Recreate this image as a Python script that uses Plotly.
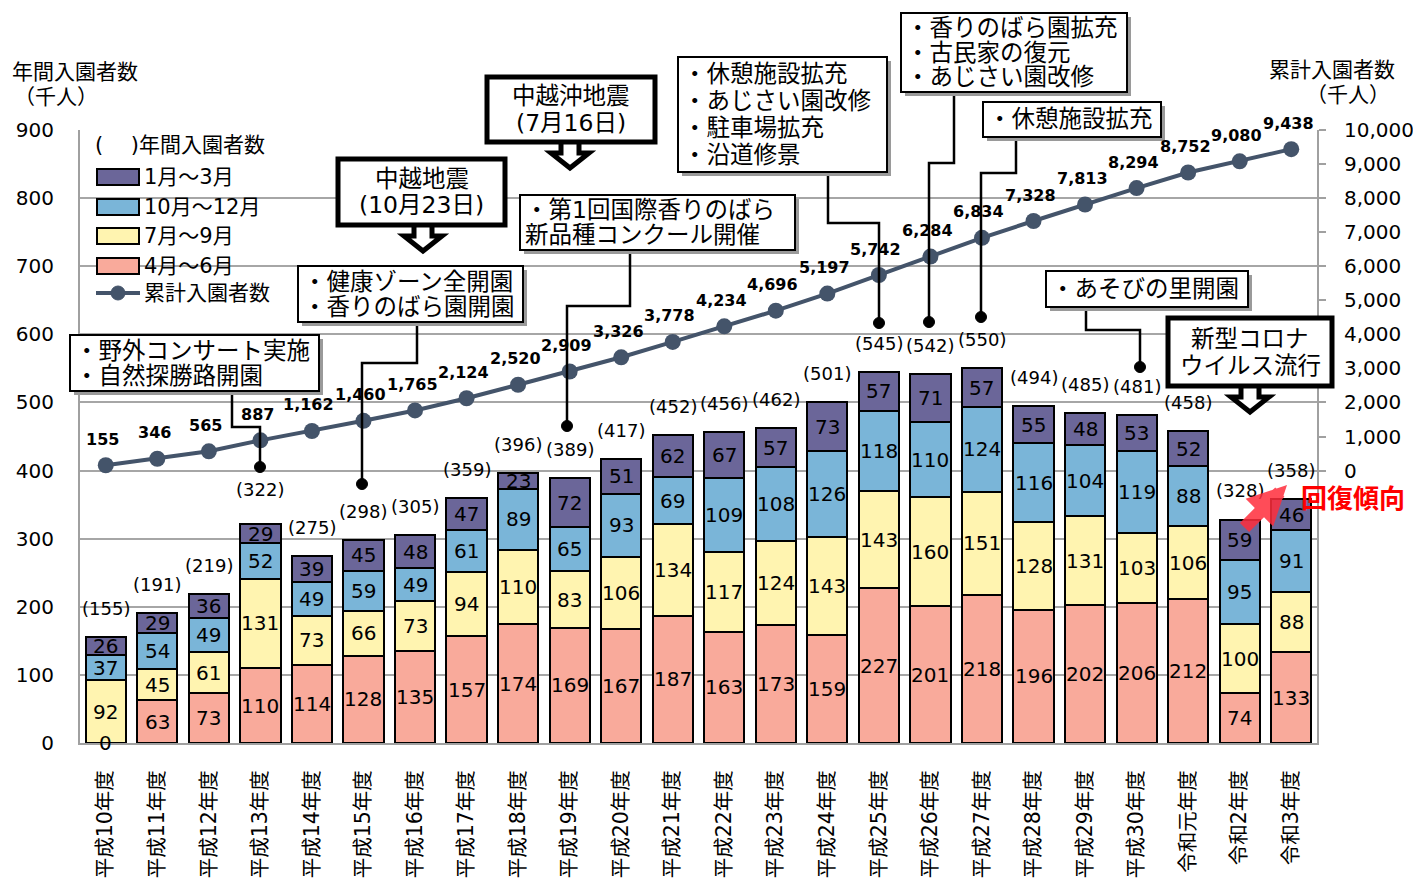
import plotly.graph_objects as go

# ---------------- data ----------------
categories = ["平成10年度", "平成11年度", "平成12年度", "平成13年度", "平成14年度", "平成15年度",
              "平成16年度", "平成17年度", "平成18年度", "平成19年度", "平成20年度", "平成21年度",
              "平成22年度", "平成23年度", "平成24年度", "平成25年度", "平成26年度", "平成27年度",
              "平成28年度", "平成29年度", "平成30年度", "令和元年度", "令和2年度", "令和3年度"]
apr_jun = [0, 63, 73, 110, 114, 128, 135, 157, 174, 169, 167, 187, 163, 173, 159, 227, 201, 218, 196, 202, 206, 212, 74, 133]
jul_sep = [92, 45, 61, 131, 73, 66, 73, 94, 110, 83, 106, 134, 117, 124, 143, 143, 160, 151, 128, 131, 103, 106, 100, 88]
oct_dec = [37, 54, 49, 52, 49, 59, 49, 61, 89, 65, 93, 69, 109, 108, 126, 118, 110, 124, 116, 104, 119, 88, 95, 91]
jan_mar = [26, 29, 36, 29, 39, 45, 48, 47, 23, 72, 51, 62, 67, 57, 73, 57, 71, 57, 55, 48, 53, 52, 59, 46]
annual_total = [155, 191, 219, 322, 275, 298, 305, 359, 396, 389, 417, 452, 456, 462, 501, 545, 542, 550, 494, 485, 481, 458, 328, 358]
cumulative = [155, 346, 565, 887, 1162, 1460, 1765, 2124, 2520, 2909, 3326, 3778, 4234, 4696, 5197, 5742, 6284, 6834,
              7328, 7813, 8294, 8752, 9080, 9438]
left_ticks = [0, 100, 200, 300, 400, 500, 600, 700, 800, 900]
right_ticks = [0, 1000, 2000, 3000, 4000, 5000, 6000, 7000, 8000, 9000, 10000]

series_names = ["4月～6月", "7月～9月", "10月～12月", "1月～3月"]
series_vals = [apr_jun, jul_sep, oct_dec, jan_mar]
series_cols = ["#F9AA9B", "#FFF4B0", "#7AB5D8", "#6B6699"]
LINE_COL = "#44546A"
FONT = "DejaVu Sans, Noto Sans CJK JP"

W, H = 1413, 883
L, R, T, B = 80, 1317, 130, 743


def px(x):
    return (x - L) / (R - L)


def py(y):
    return (B - y) / (B - T)


def txt(x, y, text, size=20, xanchor="center", color="black", family=FONT, align="left"):
    return dict(x=px(x), y=py(y), xref="paper", yref="paper", text=text, showarrow=False, xanchor=xanchor,
                yanchor="middle", align=align, font=dict(size=size, color=color, family=family))


fig = go.Figure()
for name, vals, col in zip(series_names, series_vals, series_cols):
    fig.add_trace(go.Bar(x=categories, y=vals, name=name, marker=dict(color=col, line=dict(color="black", width=2)),
                         showlegend=False, hoverinfo="skip"))

fig.add_trace(go.Scatter(x=categories, y=cumulative, yaxis="y2", mode="lines+markers", name="累計入園者数",
                         line=dict(color=LINE_COL, width=4), marker=dict(size=16, color=LINE_COL),
                         showlegend=False, cliponaxis=False))

ann = []
shapes = []

# segment labels
for i, cat in enumerate(categories):
    base = 0
    for vals in series_vals:
        v = vals[i]
        ann.append(dict(x=cat, y=base + v / 2, xref="x", yref="y", text=str(v), showarrow=False,
                        xanchor="center", yanchor="middle", font=dict(size=20, color="black", family=FONT)))
        base += v
    extra = 8 if annual_total[i] == 322 else 0
    ann.append(dict(x=cat, y=annual_total[i] + 42 + extra, xref="x", yref="y", text=f"({annual_total[i]})",
                    showarrow=False, xanchor="center", yanchor="middle",
                    font=dict(size=18, color="black", family=FONT)))
    ann.append(dict(x=cat, y=cumulative[i], xref="x", yref="y2", text=f"<b>{cumulative[i]:,}</b>",
                    showarrow=False, yshift=26, xshift=-3, xanchor="center", yanchor="middle",
                    font=dict(size=16, color="black", family=FONT)))

# axis titles
ann += [
    txt(10, 72, "年間入園者数", size=21, xanchor="left"),
    txt(12, 97, "（千人）", size=21, xanchor="left"),
    txt(1397, 70, "累計入園者数", size=21, xanchor="right"),
    txt(1392, 95, "（千人）", size=21, xanchor="right"),
]

# manual legend
ann.append(txt(93, 145, "(　 )年間入園者数", size=21, xanchor="left"))
leg_rows = [("1月～3月", series_cols[3], 177), ("10月～12月", series_cols[2], 207),
            ("7月～9月", series_cols[1], 236), ("4月～6月", series_cols[0], 266)]
for t, col, yy in leg_rows:
    shapes.append(dict(type="rect", xref="paper", yref="paper", x0=px(97), x1=px(139), y0=py(yy - 8), y1=py(yy + 8),
                       fillcolor=col, line=dict(color="black", width=2)))
    ann.append(txt(142, yy, t, size=21, xanchor="left"))
shapes.append(dict(type="line", xref="paper", yref="paper", x0=px(96), x1=px(140), y0=py(293), y1=py(293),
                   line=dict(color=LINE_COL, width=4)))
shapes.append(dict(type="circle", xref="paper", yref="paper", x0=px(111), x1=px(125), y0=py(286), y1=py(300),
                   fillcolor=LINE_COL, line=dict(color=LINE_COL, width=1)))
ann.append(txt(142, 293, "累計入園者数", size=21, xanchor="left"))


def box(x0, x1, y0, y1, lines, thick=False, align="left", spacing=26):
    if not thick:
        shapes.append(dict(type="rect", xref="paper", yref="paper", x0=px(x0 + 4), x1=px(x1 + 4),
                           y0=py(y0 + 4), y1=py(y1 + 4), fillcolor="#9A9A9A", line=dict(width=0)))
    shapes.append(dict(type="rect", xref="paper", yref="paper", x0=px(x0), x1=px(x1), y0=py(y0), y1=py(y1),
                       fillcolor="white", line=dict(color="black", width=5 if thick else 2)))
    n = len(lines)
    cy = (y0 + y1) / 2
    for k, line in enumerate(lines):
        ly = cy + (k - (n - 1) / 2) * spacing
        if align == "center":
            ann.append(txt((x0 + x1) / 2, ly, line, size=23.5, xanchor="center"))
        else:
            ann.append(txt(x0 + 3, ly, line, size=23.5, xanchor="left"))


def down_arrow(cx, y0):
    pts = [(cx - 9, y0), (cx - 9, y0 + 12), (cx - 19, y0 + 12), (cx, y0 + 27), (cx + 19, y0 + 12),
           (cx + 9, y0 + 12), (cx + 9, y0)]
    path = "M " + " L ".join(f"{px(a)},{py(b)}" for a, b in pts)
    shapes.append(dict(type="path", xref="paper", yref="paper", path=path, fillcolor="white",
                       line=dict(color="black", width=5)))


def leader(pts):
    path = "M " + " L ".join(f"{px(a)},{py(b)}" for a, b in pts)
    shapes.append(dict(type="path", xref="paper", yref="paper", path=path, line=dict(color="black", width=2.5)))
    ex, ey = pts[-1]
    shapes.append(dict(type="circle", xref="paper", yref="paper", x0=px(ex - 5.5), x1=px(ex + 5.5),
                       y0=py(ey - 5.5), y1=py(ey + 5.5), fillcolor="black", line=dict(color="black", width=1)))


# leaders first (under boxes)
leader([(417, 323), (417, 363), (362, 363), (362, 484)])
leader([(232, 391), (232, 427), (260, 427), (260, 467)])
leader([(630, 250), (630, 306), (567, 306), (567, 426)])
leader([(828, 172), (828, 223), (879, 223), (879, 323)])
leader([(954, 92), (954, 163), (929, 163), (929, 322)])
leader([(1016, 137), (1016, 173), (981, 173), (981, 317)])
leader([(1086, 307), (1086, 330), (1140, 330), (1140, 367)])

down_arrow(423, 224)
down_arrow(570, 141)
down_arrow(1250, 385)

box(338, 505, 159, 225, ["中越地震", "(10月23日)"], thick=True, align="center")
box(487, 655, 77, 142, ["中越沖地震", "(7月16日)"], thick=True, align="center", spacing=27)
box(1168, 1332, 318, 386, ["新型コロナ", "ウイルス流行"], thick=True, align="center", spacing=27)
box(298, 523, 266, 322, ["・健康ゾーン全開園", "・香りのばら園開園"], spacing=25)
box(70, 319, 335, 391, ["・野外コンサート実施", "・自然探勝路開園"], spacing=25)
box(520, 795, 195, 250, ["・第1回国際香りのばら", "新品種コンクール開催"], spacing=25)
box(678, 887, 57, 172, ["・休憩施設拡充", "・あじさい園改修", "・駐車場拡充", "・沿道修景"], spacing=26.7)
box(901, 1127, 13, 92, ["・香りのばら園拡充", "・古民家の復元", "・あじさい園改修"], spacing=24.5)
box(983, 1161, 102, 137, ["・休憩施設拡充"])
box(1046, 1248, 271, 307, ["・あそびの里開園"])

# recovery arrow and label
ann.append(dict(x=px(1287), y=py(485), xref="paper", yref="paper", ax=-44, ay=44, text="", showarrow=True,
                arrowhead=2, arrowsize=0.6, arrowwidth=13, arrowcolor="rgba(255,45,60,0.85)"))
ann.append(txt(1353, 496, "<b>回復傾向</b>", size=26, color="#FF0000", family="Noto Sans CJK JP"))

fig.update_layout(
    width=W, height=H,
    margin=dict(l=L, r=W - R, t=T, b=H - B, autoexpand=False),
    paper_bgcolor="white", plot_bgcolor="white",
    barmode="stack", bargap=0.22,
    font=dict(family=FONT, color="black"),
    xaxis=dict(type="category", range=[-0.5, len(categories) - 0.5], tickangle=-90,
               tickfont=dict(size=20.5, color="black"), showline=True,
               linecolor="#A0A0A0", linewidth=2, ticks="", ticklabelstandoff=17, showgrid=False, automargin=False),
    yaxis=dict(range=[0, 900], tickvals=left_ticks, tickfont=dict(size=20, color="black"), showgrid=True,
               gridcolor="#A6A6A6", gridwidth=1.5, showline=True, linecolor="#A0A0A0", linewidth=2, ticks="",
               ticklabelstandoff=20, zeroline=False, automargin=False),
    yaxis2=dict(range=[-8000, 10000], overlaying="y", side="right", tickvals=right_ticks, tickformat=",d",
                tickfont=dict(size=20, color="black"), showgrid=False, showline=True, linecolor="#A0A0A0",
                linewidth=2, ticks="outside", ticklen=7, tickcolor="#A0A0A0", tickwidth=2, zeroline=False,
                ticklabelstandoff=14, automargin=False),
    annotations=ann,
    shapes=shapes,
    showlegend=False,
)

fig.write_html("out.html")
